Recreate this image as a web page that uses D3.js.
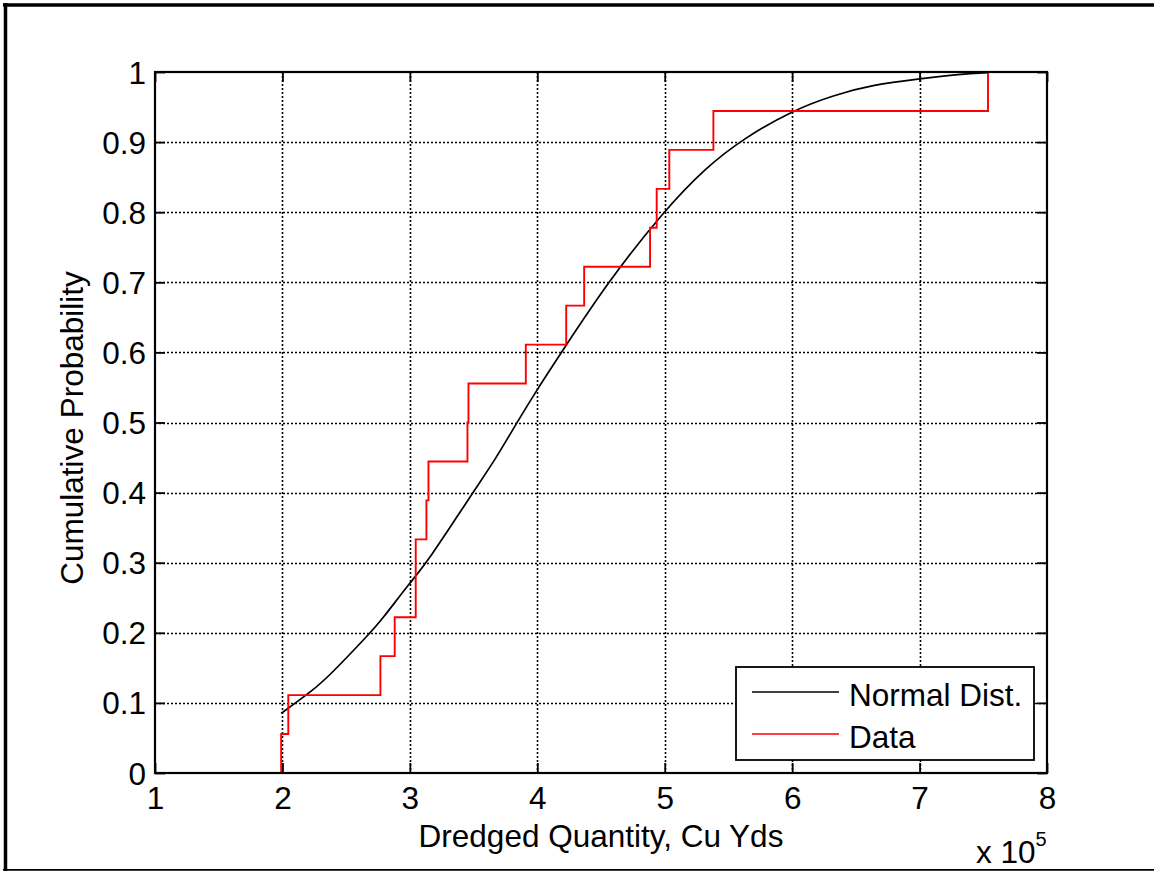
<!DOCTYPE html>
<html lang="en">
<head>
<meta charset="utf-8">
<title>Dredged Quantity CDF</title>
<style>
  body { margin: 0; background: #fff; }
  svg { display: block; }
  text { font-family: "Liberation Sans", Arial, Helvetica, sans-serif; fill: #000; }
</style>
<script src="https://cdn.jsdelivr.net/npm/d3@7"></script>
</head>
<body>
<div id="chart"></div>
<script>

// sorted dredged quantities (Cu Yds)
var dredged = [199000, 204600, 276900, 288100, 304600, 304600, 313000, 314600, 345200,
               346000, 391000, 422700, 436800, 488500, 493700, 503600, 538200, 753700];

// fitted normal CDF
var normalX = [199000, 224000, 237000, 268500, 277700, 299400, 314300, 349700, 366700, 383700,
               399500, 420000, 455700, 498900, 533000, 561800, 600000, 632500, 664000, 699000,
               732000, 753700];
var normalP = [0.085, 0.118, 0.139, 0.199, 0.218, 0.270, 0.302, 0.401, 0.446, 0.499,
               0.546, 0.603, 0.701, 0.801, 0.865, 0.905, 0.945, 0.967, 0.982, 0.990,
               0.997, 0.999];

var xTicks = [100000, 200000, 300000, 400000, 500000, 600000, 700000, 800000];
var yTicks = [0, 0.1, 0.2, 0.3, 0.4, 0.5, 0.6, 0.7, 0.8, 0.9, 1];

var legendNames = ["Normal Dist.", "Data"];
var legendColors = ["#000000", "#ff0000"];

var width = 1154,
    height = 871;

// axes box edges (pixels)
var axL = 155, axR = 1047, axT = 72, axB = 773;
var fontSize = "31.5px";

var svg = d3.select("#chart").append("svg")
    .attr("width", width)
    .attr("height", height);

// figure frame
svg.append("line").attr("x1", 5.5).attr("x2", 5.5).attr("y1", 3).attr("y2", 871)
    .attr("stroke", "#000").attr("stroke-width", 3.5);
svg.append("line").attr("x1", 3).attr("x2", width).attr("y1", 5).attr("y2", 5)
    .attr("stroke", "#000").attr("stroke-width", 3.5);
svg.append("line").attr("x1", 3).attr("x2", width).attr("y1", 869.8).attr("y2", 869.8)
    .attr("stroke", "#000").attr("stroke-width", 1.7);

var x = d3.scaleLinear().domain([100000, 800000]).range([axL, axR]);
var y = d3.scaleLinear().domain([0, 1]).range([axB, axT]);

// grid
var grid = svg.append("g");
grid.selectAll(".vg").data(xTicks.slice(1, -1)).enter().append("line")
    .attr("x1", function(d){ return Math.round(x(d)) + 0.5; })
    .attr("x2", function(d){ return Math.round(x(d)) + 0.5; })
    .attr("y1", axT).attr("y2", axB);
grid.selectAll(".hg").data(yTicks.slice(1, -1)).enter().append("line")
    .attr("x1", axL).attr("x2", axR)
    .attr("y1", function(d){ return Math.round(y(d)) + 0.5; })
    .attr("y2", function(d){ return Math.round(y(d)) + 0.5; });
grid.selectAll("line")
    .attr("stroke", "#000").attr("stroke-width", 1.6)
    .attr("stroke-dasharray", "2,2");

// axes (ticks inward on all sides)
var fmtX = function(d){ return d / 100000; };
var fmtY = d3.format("~g");

var gx = svg.append("g").attr("transform", "translate(0," + axB + ")")
    .call(d3.axisBottom(x).tickValues(xTicks).tickFormat(fmtX).tickSize(-10).tickPadding(14));
var gxt = svg.append("g").attr("transform", "translate(0," + axT + ")")
    .call(d3.axisTop(x).tickValues(xTicks).tickFormat("").tickSize(-10));
var gy = svg.append("g").attr("transform", "translate(" + axL + ",0)")
    .call(d3.axisLeft(y).tickValues(yTicks).tickFormat(fmtY).tickSize(-10).tickPadding(9));
var gyr = svg.append("g").attr("transform", "translate(" + axR + ",0)")
    .call(d3.axisRight(y).tickValues(yTicks).tickFormat("").tickSize(-10));

[gx, gxt, gy, gyr].forEach(function(g){
  g.select(".domain").remove();
  g.selectAll(".tick line").attr("stroke", "#000").attr("stroke-width", 1.8);
  g.selectAll("text").style("font-size", fontSize).attr("fill", "#000")
    .style("font-family", '"Liberation Sans", Arial, sans-serif');
});
gy.selectAll(".tick text").attr("dy", "0.35em");

// data lines
var line = d3.line()
    .x(function(d){ return x(d[0]); })
    .y(function(d){ return y(d[1]); });

var normalPts = normalX.map(function(v, i){ return [v, normalP[i]]; });
svg.append("path")
    .attr("d", line.curve(d3.curveBasis)(normalPts))
    .attr("fill", "none").attr("stroke", "#000").attr("stroke-width", 1.7);

var n = dredged.length;
var stepPts = [[dredged[0], 0]].concat(dredged.map(function(v, i){ return [v, (i + 1) / n]; }));
svg.append("path")
    .attr("d", d3.line()
        .x(function(d){ return x(d[0]); })
        .y(function(d){ return y(d[1]); })
        .curve(d3.curveStepAfter)(stepPts))
    .attr("fill", "none").attr("stroke", "#ff0000").attr("stroke-width", 1.9);

// axes box
svg.append("rect")
    .attr("x", axL).attr("y", axT)
    .attr("width", axR - axL).attr("height", axB - axT)
    .attr("fill", "none").attr("stroke", "#000").attr("stroke-width", 2.2);

// labels
svg.append("text")
    .attr("x", 601).attr("y", 847)
    .attr("text-anchor", "middle")
    .style("font-size", fontSize)
    .text("Dredged Quantity, Cu Yds");

svg.append("text")
    .attr("transform", "translate(83,428) rotate(-90)")
    .attr("text-anchor", "middle")
    .style("font-size", fontSize)
    .text("Cumulative Probability");

var expo = svg.append("text").attr("x", 976).attr("y", 863).style("font-size", fontSize);
expo.append("tspan").text("x 10");
expo.append("tspan").attr("dy", -17).style("font-size", "20px").text("5");

// legend
var legend = svg.append("g");
legend.append("rect")
    .attr("x", 736).attr("y", 667).attr("width", 298).attr("height", 93)
    .attr("fill", "#fff").attr("stroke", "#000").attr("stroke-width", 1.8);
var items = legend.selectAll(".item").data(legendNames).enter().append("g")
    .attr("transform", function(d, i){ return "translate(0," + (692 + i * 42) + ")"; });
items.append("line")
    .attr("x1", 752).attr("x2", 839)
    .attr("stroke", function(d, i){ return legendColors[i]; })
    .attr("stroke-width", 1.3);
items.append("text")
    .attr("x", 849).attr("y", 14)
    .style("font-size", fontSize)
    .text(function(d){ return d; });

</script>
</body>
</html>
